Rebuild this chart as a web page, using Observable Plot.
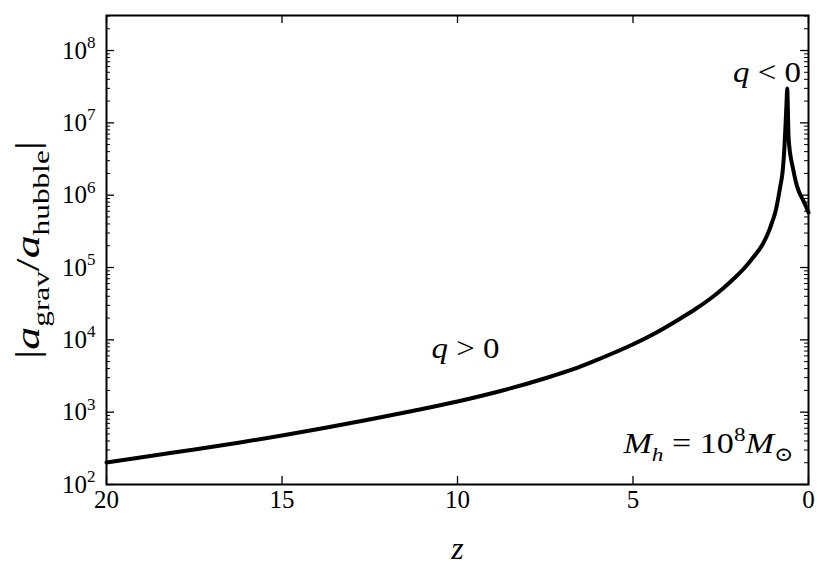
<!DOCTYPE html>
<html><head><meta charset="utf-8">
<script src="https://cdn.jsdelivr.net/npm/d3@7"></script>
<script src="https://cdn.jsdelivr.net/npm/@observablehq/plot@0.6"></script>
<style>
html,body{margin:0;padding:0;background:#fff}
svg{display:block}
</style>
</head><body><div id="chart"></div>
<script>
// Redshift values
const zValues = [20, 18.75, 17.49, 16.24, 15.0, 13.76, 12.51, 11.25, 10.0, 8.77, 7.52, 6.72, 5.93, 5.01, 4.33, 3.65, 3.22, 2.79, 2.42, 2.14, 1.85, 1.60, 1.31, 1.11, 1.03, 0.94, 0.87, 0.80, 0.74, 0.70, 0.655, 0.627, 0.607, 0.57, 0.541, 0.499, 0.442, 0.370, 0.285, 0.179, 0.085, 0];
// |a_grav / a_hubble|
const ratioValues = [201, 248, 305, 378, 475, 608, 792, 1047, 1406, 1963, 2924, 3894, 5520, 8620, 12630, 19720, 26700, 37300, 52100, 69400, 95300, 133300, 208000, 335700, 432800, 594600, 871000, 1.36e6, 2.06e6, 3.54e6, 9.18e6, 1.85e7, 2.99e7, 6.68e6, 4.42e6, 3.21e6, 2.34e6, 1.60e6, 1.16e6, 9.0e5, 7.2e5, 5.77e5];
const xTickValues = [20, 15, 10, 5, 0];
const yTickValues = [1e2, 1e3, 1e4, 1e5, 1e6, 1e7, 1e8];
const annotationTexts = ["q > 0", "q < 0", "M_h = 10^8 M_sun"];

const data = zValues.map((z, i) => ({z, v: ratioValues[i]}));
const yMinor = [];
for (const m of yTickValues) for (let k = 2; k <= 9; k++) if (m * k <= 3e8) yMinor.push(m * k);

const W = 832, H = 575, mL = 106, mR = 24, mT = 15, mB = 91;
const pw = W - mL - mR, ph = H - mT - mB;
const FONT = "'Liberation Serif', Tinos, 'Times New Roman', Times, 'Noto Serif', 'DejaVu Serif', FreeSerif, serif";

const chart = Plot.plot({
  width: W, height: H,
  marginLeft: mL, marginRight: mR, marginTop: mT, marginBottom: mB,
  style: {fontFamily: FONT, fontSize: "22px", background: "#fff", color: "#000"},
  x: {domain: [20, 0], label: null},
  y: {type: "log", domain: [100, 3.05e8], label: null},
  marks: [
    Plot.tickX(xTickValues, {x: d => d, insetTop: ph - 8, stroke: "#000", strokeWidth: 1.3}),
    Plot.tickX(xTickValues, {x: d => d, insetBottom: ph - 8, stroke: "#000", strokeWidth: 1.3}),
    Plot.tickY(yTickValues, {y: d => d, insetRight: pw - 8, stroke: "#000", strokeWidth: 1.3}),
    Plot.tickY(yTickValues, {y: d => d, insetLeft: pw - 8, stroke: "#000", strokeWidth: 1.3}),
    Plot.tickY(yMinor, {y: d => d, insetRight: pw - 4, stroke: "#000", strokeWidth: 1}),
    Plot.tickY(yMinor, {y: d => d, insetLeft: pw - 4, stroke: "#000", strokeWidth: 1}),
    Plot.axisX({ticks: xTickValues, tickSize: 0, tickPadding: 6, tickFormat: d => String(d), label: null, fontSize: 25}),
    Plot.axisY({ticks: yTickValues, tickSize: 0, tickPadding: 11, tickFormat: d => "10^" + Math.round(Math.log10(d)), label: null, fontSize: 25}),
    Plot.line(data, {x: "z", y: "v", stroke: "#000", strokeWidth: 4, curve: "monotone-x"}),
    Plot.frame({stroke: "#000", strokeWidth: 2}),
    Plot.text([annotationTexts[0]], {x: () => 9.77, y: () => 5700, text: d => d, textAnchor: "middle", lineAnchor: "bottom", fontSize: 29}),
    Plot.text([annotationTexts[1]], {x: () => 1.18, y: () => 3.65e7, text: d => d, textAnchor: "middle", lineAnchor: "bottom", fontSize: 29}),
    Plot.text([annotationTexts[2]], {x: () => 0.43, y: () => 270, text: d => d, textAnchor: "end", lineAnchor: "bottom", fontSize: 29}),
    Plot.text(["__XLABEL__"], {frameAnchor: "bottom", dy: 64, text: d => d, textAnchor: "middle", lineAnchor: "middle", fontSize: 32}),
    Plot.text(["__YLABEL__"], {frameAnchor: "left", dx: -78, rotate: -90, text: d => d, textAnchor: "middle", lineAnchor: "middle", fontSize: 34})
  ]
});
document.getElementById("chart").appendChild(chart);

function rich(el, parts, size, len) {
  const t = d3.select(el);
  t.text(null);
  let cur = 0;
  for (const p of parts) {
    const target = p.sub ? 0.28 * size : p.sup ? -0.42 * size : 0;
    const ts = t.append("tspan").text(p.t);
    if (p.it) ts.style("font-style", "italic");
    if (p.sub || p.sup) ts.style("font-size", (0.68 * size) + "px");
    if (target !== cur) { ts.attr("dy", (target - cur) + "px"); cur = target; }
  }
  if (len) t.attr("textLength", len).attr("lengthAdjust", "spacingAndGlyphs");
}
const svg = d3.select(chart.tagName.toLowerCase() === "svg" ? chart : chart.querySelector("svg"));
svg.selectAll("text").each(function() {
  const s = this.textContent;
  let m;
  if ((m = /^10\^(\d+)$/.exec(s))) {
    rich(this, [{t: "10"}, {t: m[1], sup: true}], 25);
  } else if (s === "q > 0") {
    rich(this, [{t: "q", it: true}, {t: " > 0"}], 29, 68);
  } else if (s === "q < 0") {
    rich(this, [{t: "q", it: true}, {t: " < 0"}], 29, 68);
  } else if (s === "M_h = 10^8 M_sun") {
    rich(this, [{t: "M", it: true}, {t: "h", it: true, sub: true}, {t: " = 10"}, {t: "8", sup: true}, {t: "M", it: true}, {t: "\u2299", sub: true}], 29, 170);
  } else if (s === "__XLABEL__") {
    rich(this, [{t: "z", it: true}], 32);
  } else if (s === "__YLABEL__") {
    rich(this, [{t: "|"}, {t: "a", it: true}, {t: "grav", sub: true}, {t: "/"}, {t: "a", it: true}, {t: "hubble", sub: true}, {t: "|"}], 34, 218);
  }
});
svg.selectAll("text, tspan").style("font-family", FONT);
</script>
</body></html>
